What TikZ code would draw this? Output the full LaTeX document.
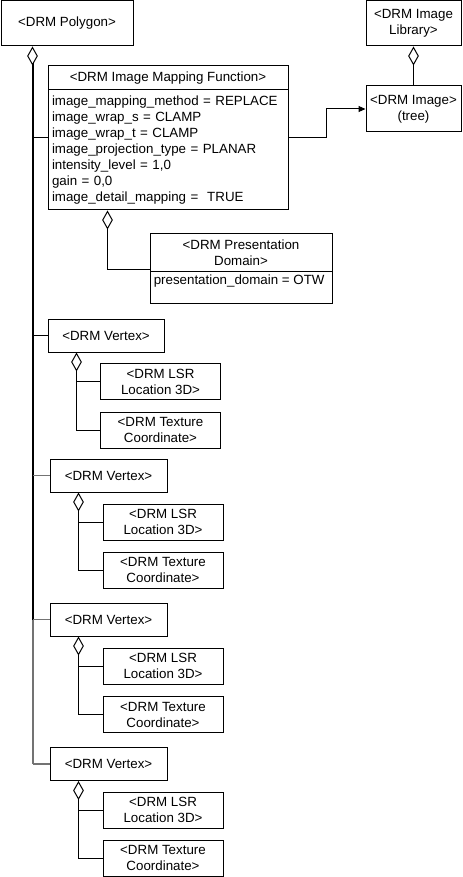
\documentclass[tikz,border=0pt]{standalone}
\usepackage{fontspec}
\setmainfont{Liberation Sans}
\usetikzlibrary{arrows.meta,calc}
\begin{document}
\begin{tikzpicture}[x=0.75pt,y=-0.75pt,
 box/.style={draw,line width=0.75pt,inner sep=0pt,align=center,font=\fontsize{10}{12}\selectfont},
 vbox/.style={box,minimum width=87.75pt,minimum height=24.75pt},
 sbox/.style={box,minimum width=90pt,minimum height=27pt},
 conn/.style={line width=0.75pt},
 gconn/.style={line width=1.1pt,draw=black!55},
 dia/.style={-{Diamond[open,length=14.25pt,width=8pt,line width=0.75pt]}},
 agg/.style={conn,dia},
 trunk/.style={line width=1.5pt},
 gtrunk/.style={line width=1.5pt,draw=black!55},
 arr/.style={conn,-{Triangle[length=5.25pt,width=4.5pt]}},
 txt/.style={inner sep=0pt,font=\fontsize{10}{12}\selectfont}]
\useasboundingbox (0,0) rectangle (463,877);

% boxes
\node[box,minimum width=99pt,minimum height=33.75pt] (poly) at (67,23.5) {<DRM Polygon>};
\node[box,minimum width=71.25pt,minimum height=33.75pt] (lib) at (413.5,23.5) {<DRM Image\\Library>};
\node[box,minimum width=71.25pt,minimum height=34.5pt] (img) at (413.5,109) {<DRM Image>\\(tree)};
\node[box,minimum width=180pt,minimum height=18pt] (mfh) at (168,78) {<DRM Image Mapping Function>};
\node[box,align=left,inner xsep=3pt,text width=174pt,minimum height=90pt] (mfb) at (168,150)
 {image\_mapping\_method = REPLACE\\
  image\_wrap\_s = CLAMP\\
  image\_wrap\_t = CLAMP\\
  image\_projection\_type = PLANAR\\
  intensity\_level = 1,0\\
  gain = 0,0\\
  image\_detail\_mapping = ~TRUE};
\node[box,minimum width=136.5pt,minimum height=27.75pt] (pdh) at (241,252.5) {<DRM Presentation\\Domain>};
\node[box,minimum width=136.5pt,minimum height=24pt] (pdb) at (241,287) {};
\node[txt,anchor=west] (pdt) at ($(pdb.north west)+(4,11)$) {presentation\_domain = OTW};

\node[vbox,minimum width=87pt] (v1) at (106,335.5) {<DRM Vertex>};
\node[sbox] (lsr1) at (160.5,381.5) {<DRM LSR\\Location 3D>};
\node[sbox] (tex1) at (160.5,430) {<DRM Texture\\Coordinate>};

\node[vbox] (v2) at (108.5,475.5) {<DRM Vertex>};
\node[sbox] (lsr2) at (163,522) {<DRM LSR\\Location 3D>};
\node[sbox] (tex2) at (163,570) {<DRM Texture\\Coordinate>};

\node[vbox] (v3) at (108.5,619.5) {<DRM Vertex>};
\node[sbox] (lsr3) at (163,666) {<DRM LSR\\Location 3D>};
\node[sbox] (tex3) at (163,714.5) {<DRM Texture\\Coordinate>};

\node[vbox] (v4) at (108.5,764) {<DRM Vertex>};
\node[sbox] (lsr4) at (163,810) {<DRM LSR\\Location 3D>};
\node[sbox] (tex4) at (163,858) {<DRM Texture\\Coordinate>};

% polygon trunk
\coordinate (pt) at ($(poly.south west)+(32,0)$);
\draw[trunk,dia] (v3.west -| pt) -- (pt);
\draw[gtrunk] (v4.west -| pt) -- (v3.west -| pt);
\coordinate (mfl) at ($(mfh.north west)!0.5!(mfb.south west)$);
\draw[conn] (mfl) -- (mfl -| pt);
\draw[conn] (v1.west) -- (v1.west -| pt);
\draw[gconn] (v2.west) -- (v2.west -| pt);
\draw[gconn] (v3.west) -- (v3.west -| pt);
\draw[gconn] (v4.west) -- (v4.west -| pt);

% image mapping function -> image
\coordinate (mfr) at ($(mfh.north east)!0.5!(mfb.south east)$);
\draw[arr] (mfr) -- ++(38,0) |- (img.west);

% image library aggregation
\draw[agg] (img.north) -- (lib.south);

% presentation domain aggregation
\coordinate (md) at ($(mfb.south west)+(60,0)$);
\draw[agg] ($(pdh.south west)+(0,-2)$) -| (md);

% vertex aggregations
\coordinate (d1) at ($(v1.south west)+(29,0)$);
\draw[agg] (tex1.west) -| (d1);
\draw[conn] (lsr1.west) -- (lsr1.west -| d1);
\coordinate (d2) at ($(v2.south west)+(29,0)$);
\draw[agg] (tex2.west) -| (d2);
\draw[conn] (lsr2.west) -- (lsr2.west -| d2);
\coordinate (d3) at ($(v3.south west)+(29,0)$);
\draw[agg] (tex3.west) -| (d3);
\draw[conn] (lsr3.west) -- (lsr3.west -| d3);
\coordinate (d4) at ($(v4.south west)+(29,0)$);
\draw[agg] (tex4.west) -| (d4);
\draw[conn] (lsr4.west) -- (lsr4.west -| d4);
\end{tikzpicture}
\end{document}
